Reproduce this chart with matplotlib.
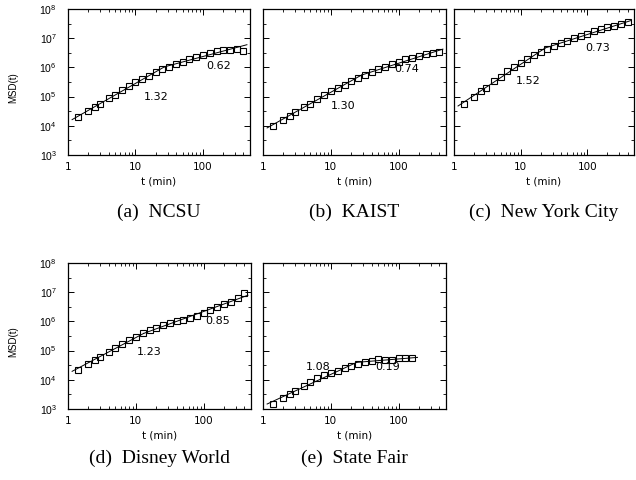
import numpy as np
import matplotlib
matplotlib.use("Agg")
import matplotlib.pyplot as plt
from matplotlib.ticker import LogLocator, NullFormatter, FixedLocator, FixedFormatter

plt.rcParams['font.family'] = ['Liberation Sans', 'DejaVu Sans']

# ---- data ----
t_full = [1.4, 2.0, 2.5, 3.0, 4.0, 5.0, 6.3, 8.0, 10, 12.6, 16, 20, 25, 32, 40,
          50, 63, 80, 100, 126, 160, 200, 250, 320, 400]
t_fair = [1.4, 2.0, 2.5, 3.0, 4.0, 5.0, 6.3, 8.0, 10, 12.6, 16, 20, 25, 32, 40,
          50, 63, 80, 100, 126, 160]

log_ncsu = [4.31, 4.49, 4.63, 4.75, 4.94, 5.05, 5.22, 5.36, 5.50, 5.61, 5.72, 5.83,
            5.93, 6.03, 6.12, 6.20, 6.28, 6.36, 6.44, 6.50, 6.55, 6.59, 6.61, 6.62, 6.55]
log_kaist = [4.00, 4.21, 4.34, 4.46, 4.63, 4.76, 4.92, 5.05, 5.18, 5.30, 5.41, 5.53,
             5.64, 5.73, 5.84, 5.93, 6.02, 6.12, 6.20, 6.28, 6.33, 6.39, 6.45, 6.50, 6.53]
log_nyc = [4.76, 4.99, 5.18, 5.30, 5.53, 5.68, 5.87, 6.01, 6.14, 6.28, 6.41, 6.53,
           6.64, 6.73, 6.82, 6.91, 6.99, 7.08, 7.16, 7.23, 7.31, 7.37, 7.42, 7.47, 7.54]
log_disney = [4.34, 4.53, 4.68, 4.78, 4.96, 5.10, 5.24, 5.38, 5.47, 5.61, 5.70, 5.78,
              5.87, 5.93, 6.00, 6.06, 6.12, 6.20, 6.29, 6.38, 6.49, 6.61, 6.68, 6.80, 6.97]
log_fair = [3.16, 3.36, 3.51, 3.63, 3.80, 3.92, 4.06, 4.15, 4.23, 4.30, 4.39, 4.47,
            4.54, 4.60, 4.65, 4.70, 4.68, 4.68, 4.76, 4.74, 4.74]

# exponents shown on each panel (early, late) and crossover time
exponents = [(1.32, 0.62), (1.30, 0.74), (1.52, 0.73), (1.23, 0.85), (1.08, 0.19)]
crossover = [30, 20, 25, 20, 25]
line_end = [450, 450, 450, 450, 190]
captions = ["(a)  NCSU", "(b)  KAIST", "(c)  New York City", "(d)  Disney World", "(e)  State Fair"]
label_pos = [((20, 10**4.98), (170, 10**6.04)),
             ((15, 10**4.69), (130, 10**5.93)),
             ((13, 10**5.52), (140, 10**6.65)),
             ((16, 10**4.94), (160, 10**6.00)),
             ((6.6, 10**4.44), (68, 10**4.43))]

series_t = [t_full, t_full, t_full, t_full, t_fair]
series_y = [log_ncsu, log_kaist, log_nyc, log_disney, log_fair]

W, H = 636, 480
fig = plt.figure(figsize=(W / 100, H / 100), dpi=100)

# axes boxes in pixels: (left, top, right, bottom)
boxes = [(68, 9, 250, 155), (263, 9, 446, 155), (454, 9, 634, 155),
         (68, 263, 251, 409), (263, 263, 446, 409)]
caption_y = [212, 212, 212, 458, 458]

for i in range(5):
    l, tp, r, b = boxes[i]
    ax = fig.add_axes([l / W, 1 - b / H, (r - l) / W, (b - tp) / H])
    t = np.array(series_t[i], dtype=float)
    y = 10 ** np.array(series_y[i])
    ax.set_xscale('log')
    ax.set_yscale('log')
    ax.set_xlim(1, 500)
    ax.set_ylim(1e3, 1e8)

    # piecewise power-law fit with the exponents shown on the panel
    a1, a2 = exponents[i]
    lt = np.log10(t)
    ly = np.log10(y)
    m1 = t <= crossover[i]
    m2 = t >= crossover[i]
    c1 = np.mean(ly[m1] - a1 * lt[m1])
    c2 = np.mean(ly[m2] - a2 * lt[m2])
    lx_cross = (c2 - c1) / (a1 - a2)
    x0 = np.log10(1.15)
    x2 = np.log10(line_end[i])
    ax.plot([10 ** x0, 10 ** lx_cross], [10 ** (c1 + a1 * x0), 10 ** (c1 + a1 * lx_cross)],
            color='black', lw=0.7, zorder=2)
    ax.plot([10 ** lx_cross, 10 ** x2], [10 ** (c2 + a2 * lx_cross), 10 ** (c2 + a2 * x2)],
            color='black', lw=0.7, zorder=2)

    ax.plot(t, y, 's', ms=5.0, mfc='none', mec='black', mew=0.8, zorder=3)

    (p1, p2) = label_pos[i]
    ax.text(p1[0], p1[1], f"{a1:.2f}", fontsize=8, family='DejaVu Sans',
            ha='center', va='center')
    ax.text(p2[0], p2[1], f"{a2:.2f}", fontsize=8, family='DejaVu Sans',
            ha='center', va='center')

    ax.xaxis.set_major_locator(FixedLocator([1, 10, 100]))
    ax.xaxis.set_major_formatter(FixedFormatter(["1", "10", "100"]))
    ax.xaxis.set_minor_locator(LogLocator(base=10, subs=np.arange(2, 10)))
    ax.xaxis.set_minor_formatter(NullFormatter())
    ax.yaxis.set_major_locator(LogLocator(base=10, numticks=10))
    ax.yaxis.set_minor_locator(LogLocator(base=10, subs=[3.16], numticks=10))
    ax.yaxis.set_minor_formatter(NullFormatter())
    ax.tick_params(which='both', direction='in', top=True, right=True)
    ax.tick_params(which='major', length=4, width=0.7)
    ax.tick_params(which='minor', length=2, width=0.6)
    ax.tick_params(axis='y', pad=8, labelsize=7.5)
    ax.tick_params(axis='x', pad=5, labelsize=7.5)
    for lab in ax.get_xticklabels():
        lab.set_family('DejaVu Sans')
    if i in (1, 2, 4):
        ax.set_yticklabels([])
    else:
        fig.text(13 / W, 1 - ((tp + b) / 2 + 6) / H, "MSD(t)", rotation=90,
                 fontsize=7, ha='center', va='center')
    ax.set_xlabel("t (min)", fontsize=7.5, family='DejaVu Sans', labelpad=3)
    for s in ax.spines.values():
        s.set_linewidth(0.9)

    fig.text((l + r) / 2 / W, 1 - caption_y[i] / H, captions[i],
             family=['Liberation Serif', 'DejaVu Serif'], fontsize=14,
             ha='center', va='center')

fig.savefig("out.png", dpi=100)
